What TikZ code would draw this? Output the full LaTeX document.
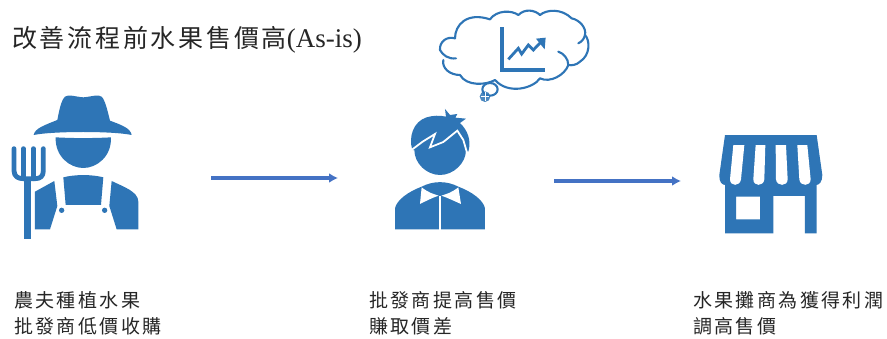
\documentclass[tikz,border=0pt]{standalone}
\usepackage{fontspec}
\usetikzlibrary{arrows.meta}
\setmainfont{Liberation Serif}
\newfontfamily\cjktitle[LetterSpace=11]{Noto Sans CJK TC}
\newfontfamily\cjkbody[LetterSpace=12.5]{Noto Sans CJK TC}
\definecolor{iconblue}{HTML}{2E75B6}
\definecolor{arrowblue}{HTML}{4472C4}
\definecolor{inktext}{HTML}{262626}
\tikzset{
  icon/.style={fill=iconblue,draw=none},
  iconline/.style={draw=iconblue,fill=none,line cap=round,line join=round},
  knock/.style={fill=white,draw=none},
  flowarrow/.style={draw=arrowblue,line width=3.2pt,-{Latex[length=9pt,width=10pt]}},
  caption/.style={anchor=north west,align=left,inner sep=0pt,text=inktext,font=\cjkbody\fontsize{19}{25.5}\selectfont},
  titletext/.style={anchor=west,inner sep=0pt,text=inktext}
}
\begin{document}
\begin{tikzpicture}[x=1pt,y=-1pt]
\useasboundingbox (0,0) rectangle (887,338);
\fill[white] (0,0) rectangle (887,338);

\node[titletext] (title) at (12,39.5) {{\cjktitle\fontsize{25}{30}\selectfont 改善流程前水果售價高}{\fontsize{27}{30}\selectfont(As-is)}};

% farmer
\begin{scope}[shift={(0,80)},x=0.3333pt,y=-0.3333pt]
\fill[icon] (101,165) .. controls (104,145) and (135,135) .. (172,120) .. controls (178,90) and (183,62) .. (195,50) .. controls (205,42) and (225,50) .. (250,52) .. controls (275,50) and (295,42) .. (305,50) .. controls (316,62) and (322,90) .. (330,122) .. controls (365,135) and (392,145) .. (395,165) .. controls (340,153) and (160,153) .. (101,165) -- cycle;
\fill[icon] (167,172) .. controls (220,175) and (280,175) .. (333,172) .. controls (335,230) and (290,264) .. (250,264) .. controls (210,264) and (165,230) .. (167,172) -- cycle;
\fill[icon] (190,292) .. controls (225,283) and (275,283) .. (310,292) -- (303,375) -- (197,375) -- cycle;
\fill[icon] (105,335) -- (163,303) -- (172,378) -- (150,448) -- (105,448) -- cycle;
\fill[icon] (335,303) .. controls (370,320) and (415,335) .. (415,365) -- (415,448) -- (350,448) -- (328,378) -- cycle;
\fill[icon] (185,391) circle (8);
\fill[icon] (314,391) circle (8);
\draw[iconline,line width=4.8pt] (42,206) -- (42,272) .. controls (42,290) and (55,296) .. (70,296) -- (105,296) .. controls (120,296) and (130,290) .. (130,272) -- (130,206);
\draw[iconline,line width=4.8pt] (70,206) -- (70,296);
\draw[iconline,line width=4.8pt] (100,206) -- (100,296);
\fill[icon] (73,296) rectangle (93,478);
\end{scope}

% wholesaler and thought cloud
\begin{scope}[shift={(380,0)},x=0.3333pt,y=-0.3333pt]
\fill[icon] (97,450) .. controls (85,410) and (100,365) .. (140,352) .. controls (160,346) and (180,346) .. (198,350) -- (195,327) -- (210,345) -- (232,342) -- (226,353) -- (258,356) -- (240,369) .. controls (262,390) and (275,420) .. (265,455) -- cycle;
\fill[icon] (103,450) .. controls (103,490) and (140,525) .. (180,525) .. controls (220,525) and (258,490) .. (258,450) .. controls (258,420) and (240,400) .. (180,400) .. controls (125,400) and (103,420) .. (103,450) -- cycle;
\draw[white,line width=1.8pt,line join=miter] (92,452) -- (128,425) -- (165,402) -- (150,442) -- (190,426) -- (232,392) -- (250,420) -- (264,468);
\fill[icon] (45,688) -- (45,625) .. controls (50,600) and (85,575) .. (125,560) .. controls (160,542) and (200,542) .. (235,560) .. controls (275,575) and (310,600) .. (315,625) -- (315,688) -- cycle;
\fill[knock] (125,562) .. controls (145,578) and (160,582) .. (176,587) .. controls (160,592) and (140,602) .. (120,612) -- cycle;
\fill[knock] (235,562) .. controls (215,578) and (200,582) .. (184,587) .. controls (200,592) and (220,602) .. (243,612) -- cycle;
\draw[white,line width=1.6pt] (180,587) -- (180,690);
\draw[iconline,line width=2.1pt]
  (228,175) .. controls (205,178) and (188,165) .. (180,150) .. controls (178,125) and (200,108) .. (225,115)
  .. controls (225,75) and (260,35) .. (330,58) .. controls (350,30) and (395,30) .. (415,45)
  .. controls (435,25) and (465,30) .. (480,45) .. controls (500,28) and (545,25) .. (575,55)
  .. controls (600,60) and (620,85) .. (615,105) .. controls (630,120) and (632,165) .. (600,185)
  .. controls (590,195) and (575,197) .. (565,195) .. controls (555,225) and (510,250) .. (480,235)
  .. controls (460,265) and (385,285) .. (345,240) .. controls (320,255) and (260,260) .. (240,225)
  .. controls (210,225) and (185,205) .. (190,180);
\draw[iconline,line width=2.1pt] (535,155) .. controls (550,160) and (565,175) .. (565,195);
\draw[iconline,line width=2.1pt] (615,105) .. controls (612,118) and (605,125) .. (595,130);
\draw[iconline,line width=2.1pt] (330,268) ellipse (23 and 19);
\fill[icon,fill opacity=0.85] (315,290) circle (16);
\draw[white,line width=0.6pt] (302,290) -- (328,290) (315,277) -- (315,303);
\draw[iconline,line width=3.2pt,line cap=butt,line join=miter] (366,82) -- (366,210) -- (495,210);
\draw[iconline,line width=2.8pt,line cap=butt,line join=miter] (385,178) -- (415,145) -- (425,162) -- (445,135) -- (460,150) -- (482,127);
\fill[icon] (468,116) -- (497,113) -- (494,148) -- cycle;
\end{scope}

% store
\begin{scope}[shift={(700,120)},x=0.3333pt,y=-0.3333pt]
\fill[icon] (75,45) -- (350,45) -- (367,165) .. controls (367,185) and (358,197) .. (345,195) -- (80,195) .. controls (65,197) and (57,185) .. (58,165) -- cycle;
\fill[icon,even odd rule] (75,190) -- (350,190) -- (350,340) -- (315,340) -- (315,228) -- (220,228) -- (220,340) -- (75,340) -- cycle (108,230) rectangle (180,298);
\fill[knock] (100,75) -- (133,75) -- (123,178) .. controls (120,200) and (90,200) .. (90,178) -- cycle;
\fill[knock] (167,75) -- (196,75) -- (193,178) .. controls (191,200) and (160,200) .. (160,178) -- cycle;
\fill[knock] (227,75) -- (258,75) -- (263,178) .. controls (263,200) and (230,200) .. (228,178) -- cycle;
\fill[knock] (292,75) -- (322,75) -- (332,178) .. controls (332,200) and (300,200) .. (298,178) -- cycle;
\end{scope}

% connectors
\coordinate (farmerside) at (211,178);
\coordinate (buyerin) at (338,178);
\coordinate (buyerout) at (554,181);
\coordinate (storeside) at (681,181);
\draw[flowarrow] (farmerside) -- (buyerin);
\draw[flowarrow] (buyerout) -- (storeside);

% captions
\node[caption] (cap1) at (14,291.5) {農夫種植水果\\批發商低價收購};
\node[caption] (cap2) at (369,291.5) {批發商提高售價\\賺取價差};
\node[caption] (cap3) at (693,291.5) {水果攤商為獲得利潤\\調高售價};
\end{tikzpicture}
\end{document}
